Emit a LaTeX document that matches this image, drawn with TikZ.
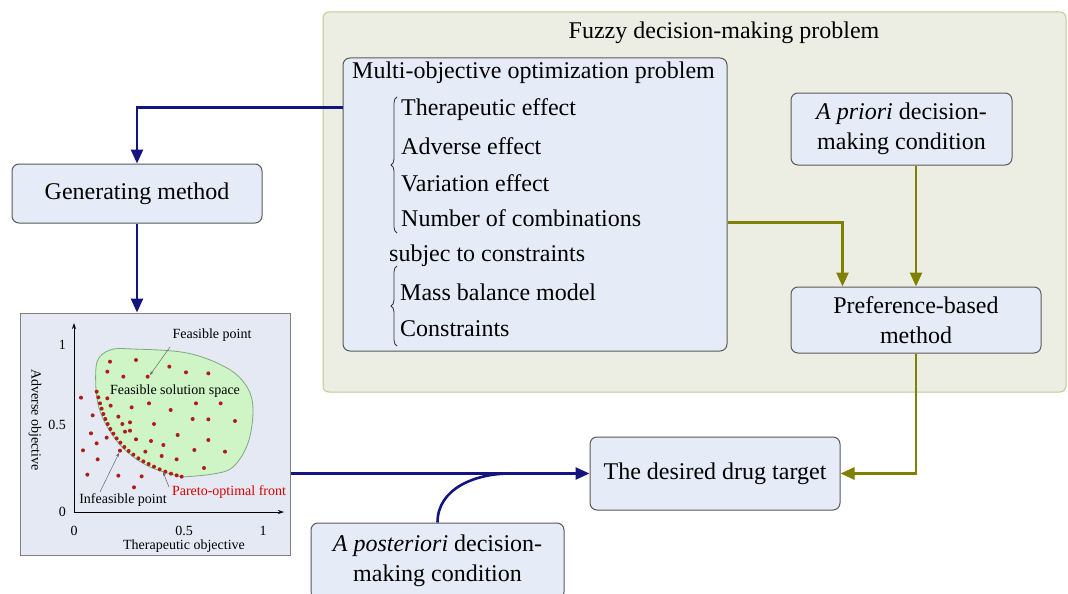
\documentclass[tikz,border=0pt]{standalone}
\usepackage{fontspec}
\setmainfont{Liberation Serif}
\usetikzlibrary{arrows.meta,calc,decorations.pathreplacing}
\definecolor{boxfill}{HTML}{E6ECF7}
\definecolor{boxborder}{HTML}{5A5A5A}
\definecolor{outerfill}{HTML}{EDEEE3}
\definecolor{outerborder}{HTML}{C5C98F}
\definecolor{navyline}{RGB}{20,20,128}
\definecolor{oliveline}{RGB}{128,128,0}
\definecolor{panelfill}{HTML}{E4E9F3}
\definecolor{greenfill}{HTML}{CFF5C6}
\definecolor{greenborder}{HTML}{7FA87F}
\definecolor{dotred}{HTML}{B01C1C}
\tikzset{
  boxnode/.style={draw=boxborder, fill=boxfill, rounded corners=7pt, line width=1pt,
    font=\fontsize{24}{30}\selectfont, align=center, inner sep=0pt},
  txt/.style={font=\fontsize{24}{28}\selectfont, inner sep=0pt, anchor=west},
  bline/.style={draw=navyline, line width=2.6pt, -{Triangle[length=14pt,width=12pt]}},
  oline/.style={draw=oliveline, line width=2.6pt, -{Triangle[length=14pt,width=12pt]}},
  small/.style={font=\fontsize{14}{16}\selectfont, inner sep=0pt},
  dot/.style={fill=dotred},
  brc/.style={draw=black!80, line width=0.8pt, decorate, decoration={brace, amplitude=6pt}},
}
\begin{document}
\begin{tikzpicture}[x=1pt,y=-1pt]
\useasboundingbox (0,0) rectangle (1068,594);
\fill[white] (0,0) rectangle (1068,594);

% outer fuzzy box
\node[draw=outerborder, fill=outerfill, rounded corners=6pt, line width=1pt,
  minimum width=743pt, minimum height=380pt, inner sep=0pt] (fuzzy) at (694.5,202) {};
\node[txt, anchor=center] (fuzzytitle) at (724,33) {Fuzzy decision-making problem};

% MOP box
\node[boxnode, minimum width=384pt, minimum height=293pt] (mop) at (535,204.5) {};
\node[txt] (mophead) at (352,73) {Multi-objective optimization problem};
\node[txt] (t1) at (401,110) {Therapeutic effect};
\node[txt] (t2) at (401,146) {Adverse effect};
\node[txt] (t3) at (401,183) {Variation effect};
\node[txt] (t4) at (401,218) {Number of combinations};
\node[txt] (t5) at (389,256) {subjec to constraints};
\node[txt] (t6) at (400,292) {Mass balance model};
\node[txt] (t7) at (400,329) {Constraints};
\draw[brc] (397,233) -- (397,97);
\draw[brc] (397,346) -- (397,266);

% other boxes
\node[boxnode, minimum width=221pt, minimum height=72pt] (apriori) at (901.5,129)
  {\textit{A priori} decision-\\making condition};
\node[boxnode, minimum width=250pt, minimum height=66pt] (pref) at (916,320)
  {Preference-based\\method};
\node[boxnode, minimum width=250pt, minimum height=59pt] (gen) at (137,193.5)
  {Generating method};
\node[boxnode, minimum width=250pt, minimum height=73pt] (desired) at (715,473.5)
  {The desired drug target};
\node[boxnode, minimum width=253pt, minimum height=76pt] (post) at (437.5,561)
  {\textit{A posteriori} decision-\\making condition};

% plot panel
\node[draw=black!50, fill=panelfill, line width=1pt, minimum width=270pt,
  minimum height=242pt, inner sep=0pt] (plot) at (155,434) {};
\filldraw[fill=greenfill, draw=greenborder, line width=0.8pt]
  plot[smooth, tension=0.6] coordinates {(96,390) (97,362) (110,350) (133,349) (187,353) (227,368) (247,387) (253,410) (248,443) (233,467) (213,474) (182,477)}
  -- plot[smooth, tension=0.6] coordinates {(182,477) (150,467) (125,450) (108,428) (99,408) (96,390)} -- cycle;
\draw[black, line width=0.9pt, -{Stealth[length=6pt,width=4pt]}] (74,512) -- (74,323);
\draw[black, line width=0.9pt, -{Stealth[length=6pt,width=4pt]}] (74,512) -- (284,512);
\node[small, anchor=east] (y1) at (66,345) {1};
\node[small, anchor=east] (y05) at (66,425) {0.5};
\node[small, anchor=east] (y0) at (66,512) {0};
\node[small] (x0) at (74,531) {0};
\node[small] (x05) at (184,531) {0.5};
\node[small] (x1) at (263,531) {1};
\node[small] (xlab) at (184,546) {Therapeutic objective};
\node[small, rotate=-90] (ylab) at (35,420) {Adverse objective};
% pareto dots
\foreach \x/\y in {290/245,295/262,300/280,305/296,310/312,316/327,323/342,331/357,340/371,350/385,361/398,373/411,386/423,400/434,415/445,430/454,446/462,462/470,479/478,496/485,513/491,530/496,545/500}
  \fill[dot] ({\x/3},{\y/3+310}) circle (2pt);
% other dots
\foreach \x/\y in {330/155,408/150,322/185,370/200,443/200,508/170,558/187,625/190,322/265,332/287,395/292,447/280,512/300,588/280,662/280,355/320,367/342,390/337,462/342,578/327,625/328,705/333,375/365,390/362,408/388,453/393,533/375,490/405,625/390,360/422,436/425,485/438,530/448,583/420,675/425,612/474,243/263,278/316,273/370,290/400,249/421,293/448,262/494,355/497,425/499,402/532,320/383}
  \fill[dot] ({\x/3},{\y/3+310}) circle (2pt);
% annotations
\node[small] (fp) at (212,335) {Feasible point};
\draw[black!60, line width=0.5pt, -{Stealth[length=4pt,width=3pt]}] (170,347) -- (150,375);
\node[small] (fss) at (175,391) {Feasible solution space};
\node[small] (ifp) at (123,500) {Infeasible point};
\draw[black!60, line width=0.5pt, -{Stealth[length=4pt,width=3pt]}] (100,492) -- (119,453);
\node[small, text=red!85!black] (pof) at (229,492) {Pareto-optimal front};
\draw[black!60, line width=0.5pt, -{Stealth[length=4pt,width=3pt]}] (169,487) -- (163,472);

% connectors
\draw[bline] ($(mop.north west)+(0,50)$) -| (gen.north);
\draw[bline] (gen.south) -- (gen.south |- plot.north);
\draw[bline] (plot.east |- desired.west) -- (desired.west);
\coordinate (join) at (510,473.5);
\draw[draw=navyline, line width=2.6pt] (post.north) to[out=90,in=180] (join);
\draw[oline] ($(mop.north east)+(0,165)$) -| ($(pref.north west)+(52,0)$);
\draw[oline] (pref.north |- apriori.south) -- (pref.north);
\draw[oline] (pref.south) |- (desired.east);
\end{tikzpicture}
\end{document}
